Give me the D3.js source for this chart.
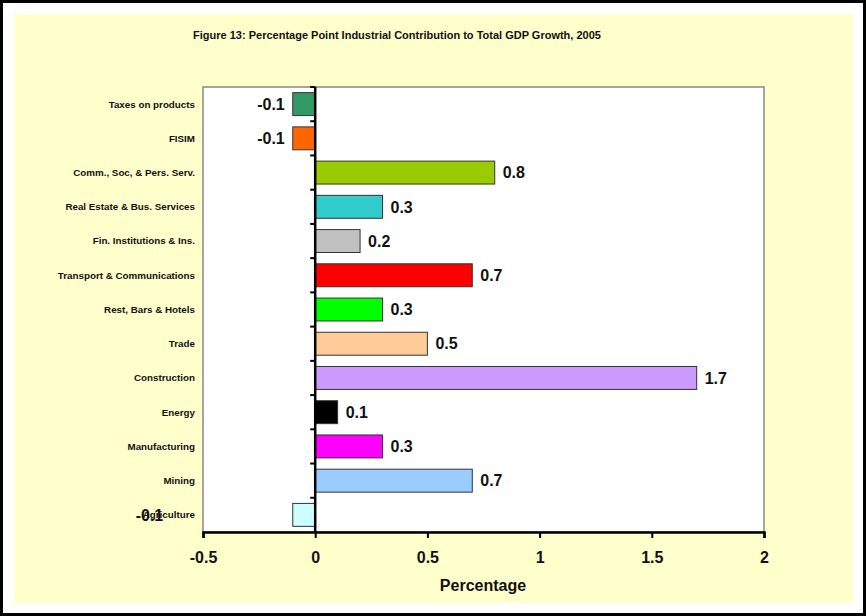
<!DOCTYPE html>
<html><head><meta charset="utf-8">
<script src="https://cdn.jsdelivr.net/npm/d3@7"></script>
<style>body{margin:0;background:#fff}svg{display:block;font-family:Arial,"Liberation Sans",sans-serif}</style>
</head><body>
<svg id="c" width="866" height="616"></svg>
<script>
const categories = ["Taxes on products","FISIM","Comm., Soc, & Pers. Serv.","Real Estate & Bus. Services","Fin. Institutions & Ins.","Transport & Communications","Rest, Bars & Hotels","Trade","Construction","Energy","Manufacturing","Mining","Agriculture"];
const values = [-0.1,-0.1,0.8,0.3,0.2,0.7,0.3,0.5,1.7,0.1,0.3,0.7,-0.1];
const colors = ["#339966","#FF6600","#99CC00","#33CCCC","#C0C0C0","#FF0000","#00FF00","#FFCC99","#CC99FF","#000000","#FF00FF","#99CCFF","#CCFFFF"];
const xTicks = [-0.5,0,0.5,1,1.5,2];
const xTickLabels = ["-0.5","0","0.5","1","1.5","2"];
const title = "Figure 13: Percentage Point Industrial Contribution to Total GDP Growth, 2005";
const xTitle = "Percentage";

const svg = d3.select("#c");
// frame
svg.append("rect").attr("x",1.5).attr("y",1.5).attr("width",863).attr("height",613).attr("fill","#fff").attr("stroke","#000").attr("stroke-width",3);
svg.append("rect").attr("x",14).attr("y",14).attr("width",839).attr("height",589).attr("fill","#FFFFCC");

const L=203, R=764, T=87, B=532;
const x = d3.scaleLinear().domain([-0.5,2]).range([L,R]);
const y = d3.scaleBand().domain(categories).range([T,B]).paddingInner(0.33).paddingOuter(0.165);

svg.append("text").attr("x",397).attr("y",39).attr("text-anchor","middle").attr("font-size",11).attr("font-weight","bold").attr("fill","#111").text(title);

// plot area
svg.append("rect").attr("x",L).attr("y",T).attr("width",R-L).attr("height",B-T).attr("fill","#fff").attr("stroke","#888").attr("stroke-width",1.5);

// bars
svg.append("g").selectAll("rect").data(values).join("rect")
  .attr("x",d=>x(Math.min(0,d))).attr("y",(d,i)=>y(categories[i]))
  .attr("width",d=>Math.abs(x(d)-x(0))).attr("height",y.bandwidth())
  .attr("fill",(d,i)=>colors[i]).attr("stroke","#333").attr("stroke-width",1);

// x axis
const xa = svg.append("g").attr("transform",`translate(0,${B})`)
  .call(d3.axisBottom(x).tickValues(xTicks).tickFormat((d,i)=>xTickLabels[i]).tickSize(6).tickPadding(14));
xa.select(".domain").attr("stroke","#000").attr("stroke-width",2.5);
xa.selectAll(".tick line").attr("stroke","#000").attr("stroke-width",2);
xa.selectAll("text").attr("font-size",16).attr("font-weight","bold").attr("fill","#111").attr("font-family","Arial,'Liberation Sans',sans-serif");

// zero axis
const boundaries = categories.map(c=>y(c)-y.step()*y.paddingInner()/2).slice(1);
svg.append("line").attr("x1",x(0)).attr("x2",x(0)).attr("y1",T).attr("y2",B).attr("stroke","#000").attr("stroke-width",2.5);
svg.append("g").selectAll("line").data([T,...boundaries]).join("line")
  .attr("x1",x(0)-5).attr("x2",x(0)).attr("y1",d=>d).attr("y2",d=>d).attr("stroke","#000").attr("stroke-width",2);

// category labels
svg.append("g").selectAll("text").data(categories).join("text")
  .attr("x",195).attr("y",c=>y(c)+y.bandwidth()/2).attr("dy","0.35em")
  .attr("text-anchor","end").attr("font-size",9.8).attr("font-weight","bold").attr("fill","#111").text(c=>c);

// value labels
svg.append("g").selectAll("text").data(values).join("text")
  .attr("x",(d,i)=> i===categories.length-1 ? x(-0.8) : (d<0 ? x(d)-8 : x(d)+8))
  .attr("y",(d,i)=>y(categories[i])+y.bandwidth()/2).attr("dy","0.36em")
  .attr("text-anchor",(d,i)=> i===categories.length-1 ? "start" : (d<0?"end":"start"))
  .attr("font-size",16).attr("font-weight","bold").attr("fill","#111").text(d=>d.toFixed(1));

svg.append("text").attr("x",483).attr("y",591).attr("text-anchor","middle").attr("font-size",16).attr("font-weight","bold").attr("fill","#111").text(xTitle);
</script>
</body></html>
